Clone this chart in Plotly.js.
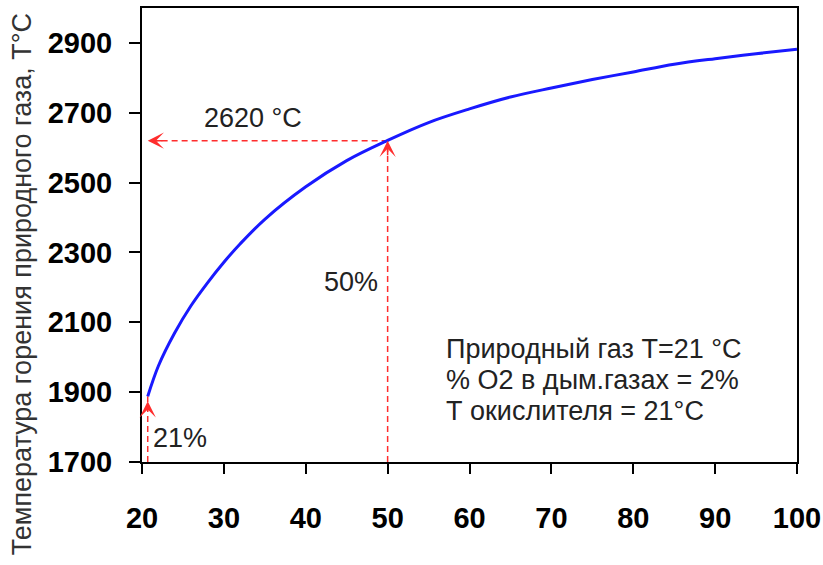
<!DOCTYPE html>
<html>
<head>
<meta charset="utf-8">
<script src="https://cdn.plot.ly/plotly-3.0.1.min.js"></script>
<style>html,body{margin:0;padding:0;background:#fff;}#chart{width:823px;height:565px;}</style>
</head>
<body>
<div id="chart"></div>
<script>
// Oxygen content in oxidizer, %
const oxygenPct = [20.7, 22, 24, 26, 28, 30, 32, 35, 40, 45, 50, 55, 60, 65, 70, 75, 80, 85, 90, 95, 100];
// Combustion temperature of natural gas, °C
const flameTemp = [1888, 1975, 2070, 2148, 2213, 2272, 2325, 2395, 2488, 2563, 2621, 2672, 2711, 2745, 2771, 2795, 2817, 2839, 2855, 2869, 2882];
const xTicks = [20, 30, 40, 50, 60, 70, 80, 90, 100];
const yTicks = [1700, 1900, 2100, 2300, 2500, 2700, 2900];
// reference points: 21% -> start, 50% -> 2620 °C
const refX = [20.7, 50];
const refY = [1888, 2620];
const refLabelsX = ["21%", "50%"];
const refLabelY = "2620 °C";
const noteLines = ["Природный газ Т=21 °С", "% O2 в дым.газах = 2%", "Т окислителя = 21°С"];
const yTitle = "Температура горения природного газа, Т°С";

const yMin = 1700, yMax = 3000, xMin = 20, xMax = 100;
const red = "rgb(255,45,45)";
const dashStyle = "6px,4px";

const traces = [
  { x: [refX[0], refX[0]], y: [yMin, refY[0]], mode: "lines", line: {color: red, width: 1.5, dash: dashStyle}, hoverinfo: "skip" },
  { x: [refX[1], refX[1]], y: [yMin, refY[1]], mode: "lines", line: {color: red, width: 1.5, dash: dashStyle}, hoverinfo: "skip" },
  { x: [refX[1], refX[0]], y: [refY[1], refY[1]], mode: "lines", line: {color: red, width: 1.5, dash: dashStyle}, hoverinfo: "skip" },
  { x: oxygenPct, y: flameTemp, mode: "lines", line: {color: "rgb(25,25,255)", width: 3, shape: "spline", smoothing: 1}, hoverinfo: "x+y" }
];

const txtFont = {family: "Liberation Sans, Arial, sans-serif", size: 27, color: "#222"};
const tickFont = {family: "Liberation Sans, Arial, sans-serif", size: 29, color: "#000", weight: "bold"};

const arrowBase = {showarrow: true, arrowhead: 3, arrowsize: 1.8, arrowwidth: 1.5, arrowcolor: red, text: ""};
const annotations = [
  // arrowheads
  Object.assign({x: refX[0], y: refY[0], ax: 0, ay: 16, standoff: 5}, arrowBase),
  Object.assign({x: refX[1], y: refY[1], ax: 0, ay: 16, standoff: 0}, arrowBase),
  Object.assign({x: refX[0], y: refY[1], ax: 16, ay: 0, standoff: 0}, arrowBase),
  // labels
  {x: 21.1, y: 1768, xanchor: "left", yanchor: "middle", showarrow: false, text: refLabelsX[0], font: txtFont},
  {x: 45.5, y: 2215, xanchor: "center", yanchor: "middle", showarrow: false, text: refLabelsX[1], font: txtFont},
  {x: 33.6, y: 2685, xanchor: "center", yanchor: "middle", showarrow: false, text: refLabelY, font: txtFont},
  {x: 56.9, y: 2025, xanchor: "left", yanchor: "middle", showarrow: false, text: noteLines[0], font: txtFont},
  {x: 56.9, y: 1935, xanchor: "left", yanchor: "middle", showarrow: false, text: noteLines[1], font: txtFont},
  {x: 56.9, y: 1847, xanchor: "left", yanchor: "middle", showarrow: false, text: noteLines[2], font: txtFont},
  // y axis title
  {xref: "paper", yref: "paper", x: -0.183, y: 0.392, xanchor: "center", yanchor: "middle", textangle: -90, showarrow: false,
   text: yTitle, font: {family: "Liberation Sans, Arial, sans-serif", size: 27, color: "#333"}}
];

const layout = {
  width: 823, height: 565,
  margin: {l: 142, r: 26, t: 8, b: 103, pad: 0},
  paper_bgcolor: "#fff", plot_bgcolor: "#fff",
  showlegend: false,
  xaxis: {
    range: [xMin, xMax], tickvals: xTicks, ticktext: xTicks.map(String),
    showgrid: false, zeroline: false, showline: true, linecolor: "#000", linewidth: 2, mirror: true,
    ticks: "outside", ticklen: 10, tickwidth: 2, tickcolor: "#000", ticklabelstandoff: 19,
    ticklabeloverflow: "allow",
    tickfont: tickFont
  },
  yaxis: {
    range: [yMin, yMax], tickvals: yTicks, ticktext: yTicks.map(String),
    showgrid: false, zeroline: false, showline: true, linecolor: "#000", linewidth: 2, mirror: true,
    ticks: "outside", ticklen: 11, tickwidth: 2, tickcolor: "#000", ticklabelstandoff: 11,
    ticklabeloverflow: "allow",
    tickfont: tickFont
  },
  annotations: annotations
};

Plotly.newPlot("chart", traces, layout, {staticPlot: true, displayModeBar: false});
</script>
</body>
</html>
